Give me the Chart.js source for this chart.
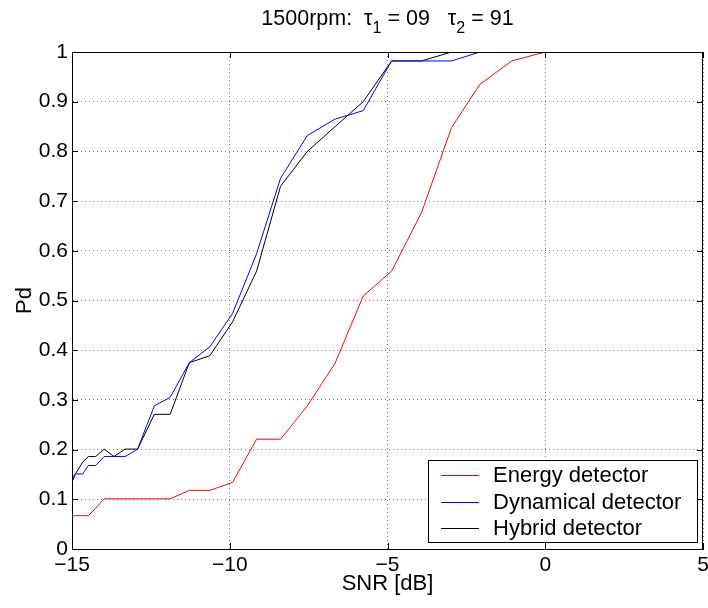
<!DOCTYPE html>
<html>
<head>
<meta charset="utf-8">
<script src="https://cdn.jsdelivr.net/npm/chart.js@4/dist/chart.umd.min.js"></script>
<style>
  html, body { margin: 0; padding: 0; background: #fff; }
  #wrap { width: 708px; height: 608px; }
</style>
</head>
<body>
<div id="wrap"><canvas id="pdChart" width="708" height="608"></canvas></div>
<script>
const snr = [-15, -14.9, -14.66, -14.48, -14.25, -13.98, -13.67, -13.32, -12.92, -12.39, -11.89, -11.28,
    -10.63, -9.91, -9.15, -8.39, -7.54, -6.66, -5.77, -4.87, -3.92, -2.97, -2.07, -1.06, 0, 1, 2, 3, 4, 5];
const energy = [0.067, 0.067, 0.067, 0.067, 0.082, 0.101, 0.101, 0.101, 0.101, 0.101, 0.101, 0.118,
    0.118, 0.134, 0.221, 0.221, 0.288, 0.374, 0.509, 0.559, 0.677, 0.848, 0.935, 0.982, 1, 1, 1, 1, 1, 1];
const dynamical = [0.142, 0.151, 0.151, 0.168, 0.168, 0.186, 0.186, 0.186, 0.201, 0.288, 0.305, 0.375,
    0.407, 0.474, 0.594, 0.746, 0.832, 0.865, 0.882, 0.982, 0.982, 0.982, 1, 1, 1, 1, 1, 1, 1, 1];
const hybrid = [0.134, 0.15, 0.175, 0.186, 0.186, 0.201, 0.186, 0.201, 0.201, 0.271, 0.271, 0.375,
    0.389, 0.457, 0.559, 0.730, 0.80, 0.85, 0.90, 0.982, 0.982, 1, 1, 1, 1, 1, 1, 1, 1, 1];

const seriesNames = ['Energy detector', 'Dynamical detector', 'Hybrid detector'];
const seriesColors = ['#ff0000', '#0000ff', '#000000'];
const xTicks = [-15, -10, -5, 0, 5];
const yTicks = [0, 0.1, 0.2, 0.3, 0.4, 0.5, 0.6, 0.7, 0.8, 0.9, 1];

const FONT = '"Liberation Sans", Arial, Helvetica, sans-serif';

function toPoints(values) {
    return snr.map((x, i) => ({ x: x, y: values[i] }));
}

// title, axis labels, inward ticks, frame and legend box (MATLAB look)
const decorations = {
    id: 'decorations',
    afterDraw(chart) {
        const ctx = chart.ctx;
        const area = chart.chartArea;
        const xs = chart.scales.x;
        const ys = chart.scales.y;
        ctx.save();

        ctx.strokeStyle = '#000';
        ctx.lineWidth = 1;
        ctx.beginPath();
        xTicks.forEach(v => {
            const px = Math.round(xs.getPixelForValue(v)) + 0.5;
            ctx.moveTo(px, area.bottom);
            ctx.lineTo(px, area.bottom - 6);
            ctx.moveTo(px, area.top);
            ctx.lineTo(px, area.top + 6);
        });
        yTicks.forEach(v => {
            const py = Math.round(ys.getPixelForValue(v)) + 0.5;
            ctx.moveTo(area.left, py);
            ctx.lineTo(area.left + 6, py);
            ctx.moveTo(area.right, py);
            ctx.lineTo(area.right - 6, py);
        });
        ctx.stroke();
        ctx.strokeRect(area.left + 0.5, area.top + 0.5, area.right - area.left - 1, area.bottom - area.top);

        // legend
        const lx = 428, ly = 460, lw = 269, lh = 82;
        ctx.fillStyle = '#fff';
        ctx.fillRect(lx, ly, lw, lh);
        ctx.strokeRect(lx + 0.5, ly + 0.5, lw, lh);
        ctx.font = '22px ' + FONT;
        ctx.textBaseline = 'middle';
        ctx.textAlign = 'left';
        seriesNames.forEach((name, i) => {
            const rowY = 475 + i * 26.5;
            ctx.strokeStyle = seriesColors[i];
            ctx.beginPath();
            ctx.moveTo(441, Math.round(rowY) + 0.5);
            ctx.lineTo(479, Math.round(rowY) + 0.5);
            ctx.stroke();
            ctx.fillStyle = '#000';
            ctx.fillText(name, 493, rowY + 1);
        });

        // title with subscripts
        const parts = [['1500rpm:  \u03c4', false], ['1', true], [' = 09   \u03c4', false], ['2', true], [' = 91', false]];
        let total = 0;
        parts.forEach(p => {
            ctx.font = (p[1] ? '16px ' : '21.5px ') + FONT;
            total += ctx.measureText(p[0]).width;
        });
        let tx = (area.left + area.right) / 2 - total / 2;
        ctx.textBaseline = 'alphabetic';
        ctx.fillStyle = '#000';
        parts.forEach(p => {
            ctx.font = (p[1] ? '16px ' : '21.5px ') + FONT;
            ctx.fillText(p[0], tx, p[1] ? 33 : 25);
            tx += ctx.measureText(p[0]).width;
        });

        // axis titles
        ctx.font = '22px ' + FONT;
        ctx.textAlign = 'center';
        ctx.fillText('SNR [dB]', (area.left + area.right) / 2, 590);
        ctx.translate(31, (area.top + area.bottom) / 2);
        ctx.rotate(-Math.PI / 2);
        ctx.fillText('Pd', 0, 0);
        ctx.restore();
    }
};

function buildChart() {
    const datasets = [energy, dynamical, hybrid].map((values, i) => ({
        label: seriesNames[i],
        data: toPoints(values),
        borderColor: seriesColors[i],
        backgroundColor: seriesColors[i],
        borderWidth: 1,
        pointRadius: 0,
        tension: 0,
        fill: false
    }));

    return new Chart(document.getElementById('pdChart'), {
        type: 'line',
        data: { datasets: datasets },
        options: {
            responsive: false,
            animation: false,
            devicePixelRatio: 1,
            layout: { padding: { top: 52, right: 5, left: 0, bottom: 0 } },
            plugins: {
                legend: { display: false },
                title: { display: false },
                tooltip: { enabled: false }
            },
            scales: {
                x: {
                    type: 'linear',
                    min: -15,
                    max: 5,
                    afterBuildTicks: scale => { scale.ticks = xTicks.map(v => ({ value: v })); },
                    afterFit: scale => {
                        scale.height = 59;
                        scale.paddingLeft = 0;
                        scale.paddingRight = 0;
                    },
                    grid: { color: '#777', drawTicks: false, lineWidth: 1 },
                    border: { display: true, color: '#000', dash: [1, 3] },
                    ticks: {
                        padding: 4,
                        color: '#000',
                        font: { family: FONT, size: 21 },
                        autoSkip: false,
                        maxRotation: 0,
                        callback: v => (v < 0 ? '\u2212' + Math.abs(v) : String(v))
                    }
                },
                y: {
                    min: 0,
                    max: 1,
                    afterBuildTicks: scale => { scale.ticks = yTicks.map(v => ({ value: v })); },
                    afterFit: scale => {
                        scale.width = 72;
                        scale.paddingTop = 0;
                        scale.paddingBottom = 0;
                    },
                    grid: { color: '#777', drawTicks: false, lineWidth: 1 },
                    border: { display: true, color: '#000', dash: [1, 3] },
                    ticks: {
                        padding: 4,
                        color: '#000',
                        font: { family: FONT, size: 21 },
                        autoSkip: false,
                        callback: v => String(Math.round(v * 10) / 10)
                    }
                }
            }
        },
        plugins: [decorations]
    });
}

document.addEventListener('DOMContentLoaded', () => {
    buildChart();
});
</script>
</body>
</html>
